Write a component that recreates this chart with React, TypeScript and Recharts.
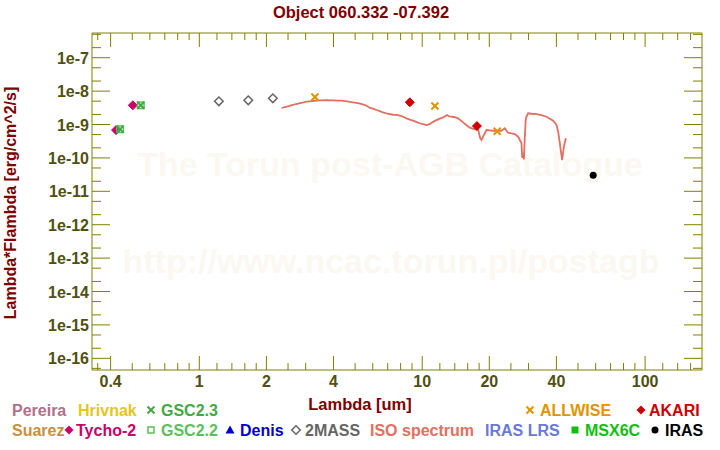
import React from 'react';
import { ComposedChart, XAxis, YAxis, Scatter, Line } from 'recharts';

const FONT = '"Liberation Sans", Arial, Helvetica, sans-serif';
const AXIS = '#808000';
const TICKTXT = '#505010';
const DARKRED = '#800000';

// ---- axis ticks ----
const xMajorTicks = [0.4, 1, 2, 4, 10, 20, 40, 100];
const xMajorLabels = ['0.4', '1', '2', '4', '10', '20', '40', '100'];
const xMinorTicks = [0.35, 0.5, 0.6, 0.7, 0.8, 0.9, 1.2, 1.4, 1.6, 1.8, 2.5, 3, 5, 6, 7, 8, 9, 12, 14, 16, 18, 25, 30, 50, 60, 70, 80, 90, 120, 140, 160];
const yMajorTicks = [1e-16, 1e-15, 1e-14, 1e-13, 1e-12, 1e-11, 1e-10, 1e-9, 1e-8, 1e-7];
const yMajorLabels = ['1e-16', '1e-15', '1e-14', '1e-13', '1e-12', '1e-11', '1e-10', '1e-9', '1e-8', '1e-7'];
const yMinorTicks = [5e-17, 2e-16, 5e-16, 2e-15, 5e-15, 2e-14, 5e-14, 2e-13, 5e-13, 2e-12, 5e-12, 2e-11, 5e-11, 2e-10, 5e-10, 2e-9, 5e-9, 2e-8, 5e-8, 2e-7, 5e-7];
const xDomain = [0.33, 180];
const yDomain = [4.47e-17, 5.49e-7];

// ---- photometry (lambda in um, lambda*F_lambda in erg/cm^2/s) ----
const tychoLambda = [0.423, 0.503];
const tychoFlux = [6.8e-10, 3.76e-9];
const gsc23Lambda = [0.441, 0.546];
const gsc23Flux = [7.2e-10, 3.76e-9];
const gsc22Lambda = [0.441, 0.546];
const gsc22Flux = [7.2e-10, 3.76e-9];
const twomassLambda = [1.224, 1.658, 2.138];
const twomassFlux = [4.95e-9, 5.3e-9, 6.1e-9];
const allwiseLambda = [3.3, 11.4, 21.7];
const allwiseFlux = [6.66e-9, 3.58e-9, 6.25e-10];
const akariLambda = [8.8, 17.6];
const akariFlux = [4.62e-9, 9.0e-10];
const irasLambda = [58.5];
const irasFlux = [3.0e-11];

// ---- ISO spectrum ----
const isoLambda = [2.34, 2.42, 2.52, 2.6, 2.72, 2.8, 2.9, 3.0, 3.12, 3.3, 3.47, 3.7, 3.98, 4.15, 4.34, 4.6, 4.89, 5.15, 5.42, 5.6, 5.81, 6.0, 6.23, 6.45, 6.67, 7.0, 7.39, 7.7, 8.07, 8.3, 8.49, 8.8, 9.09, 9.4, 9.74, 10.1, 10.44, 10.8, 11.2, 11.58, 12.0, 12.4, 12.93, 13.2, 13.52, 14.0, 14.48, 15.25, 15.8, 16.35, 17.21, 17.81, 18.2, 18.45, 18.75, 19.43, 20.1, 20.8, 21.7, 22.68, 23.47, 24.28, 25.1, 26.03, 26.93, 27.89, 28.1, 28.36, 28.6, 28.86, 29.16, 29.87, 31.0, 32.57, 34.2, 36.13, 38.67, 40.06, 40.73, 41.45, 42.0, 42.45, 43.2, 44.1];
const isoFlux = [3.12e-9, 3.3e-9, 3.55e-9, 3.8e-9, 4.11e-9, 4.3e-9, 4.5e-9, 4.75e-9, 4.96e-9, 5.15e-9, 5.31e-9, 5.35e-9, 5.31e-9, 5.2e-9, 5.16e-9, 4.95e-9, 4.62e-9, 4.4e-9, 4.03e-9, 3.7e-9, 3.18e-9, 3.0e-9, 2.72e-9, 2.5e-9, 2.32e-9, 2.1e-9, 1.96e-9, 1.95e-9, 1.79e-9, 1.65e-9, 1.53e-9, 1.4e-9, 1.3e-9, 1.2e-9, 1.09e-9, 1.02e-9, 9.66e-10, 1.03e-9, 1.2e-9, 1.36e-9, 1.5e-9, 1.64e-9, 1.92e-9, 1.75e-9, 1.71e-9, 1.65e-9, 1.53e-9, 1.16e-9, 9.5e-10, 8.02e-10, 7.18e-10, 7.18e-10, 3.94e-10, 3.44e-10, 4.32e-10, 6.84e-10, 6.7e-10, 6.51e-10, 6.6e-10, 6.51e-10, 7.69e-10, 5.68e-10, 5.4e-10, 5.2e-10, 4.32e-10, 2.74e-10, 1.0e-10, 1.37e-10, 0.9e-10, 4.32e-10, 1.53e-9, 2.16e-9, 2.1e-9, 2.06e-9, 1.9e-9, 1.71e-9, 1.3e-9, 9.66e-10, 6.08e-10, 2.74e-10, 1.4e-10, 8.65e-11, 2.16e-10, 3.86e-10];

const toPoints = (xs: number[], ys: number[]) => xs.map((x, i) => ({ x, y: ys[i] }));

const tychoData = toPoints(tychoLambda, tychoFlux);
const gsc23Data = toPoints(gsc23Lambda, gsc23Flux);
const gsc22Data = toPoints(gsc22Lambda, gsc22Flux);
const twomassData = toPoints(twomassLambda, twomassFlux);
const allwiseData = toPoints(allwiseLambda, allwiseFlux);
const akariData = toPoints(akariLambda, akariFlux);
const irasData = toPoints(irasLambda, irasFlux);
const isoData = toPoints(isoLambda, isoFlux);

const xAllTicks = [...xMajorTicks, ...xMinorTicks].sort((a, b) => a - b);
const yAllTicks = [...yMajorTicks, ...yMinorTicks].sort((a, b) => a - b);

// ---- tick renderers ----
const makeXTick = (side: 'top' | 'bottom') => (props: any) => {
  const { x, y, payload } = props;
  const idx = xMajorTicks.indexOf(payload.value);
  const major = idx >= 0;
  const len = major ? 14 : 7;
  const dir = side === 'bottom' ? -1 : 1;
  return (
    <g>
      <line x1={x} y1={y} x2={x} y2={y + dir * len} stroke={AXIS} strokeWidth={1} />
      {major && side === 'bottom' ? (
        <text x={x} y={y + 17} textAnchor="middle" fontFamily={FONT} fontWeight="bold" fontSize={16} fill={TICKTXT}>
          {xMajorLabels[idx]}
        </text>
      ) : null}
    </g>
  );
};

const makeYTick = (side: 'left' | 'right') => (props: any) => {
  const { x, y, payload } = props;
  const idx = yMajorTicks.indexOf(payload.value);
  const major = idx >= 0;
  const len = major ? 18 : 9;
  const dir = side === 'left' ? 1 : -1;
  return (
    <g>
      <line x1={x} y1={y} x2={x + dir * len} y2={y} stroke={AXIS} strokeWidth={1} />
      {major && side === 'left' ? (
        <text x={x - 3} y={y + 6} textAnchor="end" fontFamily={FONT} fontWeight="bold" fontSize={16} fill={TICKTXT}>
          {yMajorLabels[idx]}
        </text>
      ) : null}
    </g>
  );
};

// ---- marker shapes ----
const Diamond = (color: string, r: number, filled: boolean) => (p: any) => {
  const { cx, cy } = p;
  if (cx == null || cy == null) return <g />;
  return (
    <polygon
      points={`${cx},${cy - r} ${cx + r},${cy} ${cx},${cy + r} ${cx - r},${cy}`}
      fill={filled ? color : 'none'}
      stroke={color}
      strokeWidth={filled ? 1 : 1.5}
    />
  );
};
const Cross = (color: string, r: number, w: number) => (p: any) => {
  const { cx, cy } = p;
  if (cx == null || cy == null) return <g />;
  return (
    <g stroke={color} strokeWidth={w}>
      <line x1={cx - r} y1={cy - r} x2={cx + r} y2={cy + r} />
      <line x1={cx - r} y1={cy + r} x2={cx + r} y2={cy - r} />
    </g>
  );
};
const OpenSquare = (color: string, r: number) => (p: any) => {
  const { cx, cy } = p;
  if (cx == null || cy == null) return <g />;
  return <rect x={cx - r} y={cy - r} width={2 * r} height={2 * r} fill="none" stroke={color} strokeWidth={1.5} />;
};
const Dot = (color: string, r: number) => (p: any) => {
  const { cx, cy } = p;
  if (cx == null || cy == null) return <g />;
  return <circle cx={cx} cy={cy} r={r} fill={color} />;
};

// ---- legend ----
type LegendItem = { label: string; color: string; x: number; y: number; marker?: string; mx?: number };
const legendItems: LegendItem[] = [
  { label: 'Pereira', color: '#b0708a', x: 12, y: 416 },
  { label: 'Hrivnak', color: '#e6c619', x: 78, y: 416 },
  { label: 'GSC2.3', color: '#44a844', x: 161, y: 416, marker: 'cross', mx: 151 },
  { label: 'ALLWISE', color: '#e09400', x: 540, y: 416, marker: 'cross', mx: 530 },
  { label: 'AKARI', color: '#cc0000', x: 649, y: 416, marker: 'diamond', mx: 641 },
  { label: 'Suarez', color: '#c8903c', x: 12, y: 436 },
  { label: 'Tycho-2', color: '#cc0066', x: 76, y: 436, marker: 'diamond', mx: 69 },
  { label: 'GSC2.2', color: '#5cbf5c', x: 161, y: 436, marker: 'square', mx: 151 },
  { label: 'Denis', color: '#0000cc', x: 240, y: 436, marker: 'triangle', mx: 230 },
  { label: '2MASS', color: '#666666', x: 305, y: 436, marker: 'odiamond', mx: 296 },
  { label: 'ISO spectrum', color: '#e07060', x: 370, y: 436 },
  { label: 'IRAS LRS', color: '#6a78d6', x: 485, y: 436 },
  { label: 'MSX6C', color: '#10c010', x: 585, y: 436, marker: 'fsquare', mx: 575 },
  { label: 'IRAS', color: '#000000', x: 665, y: 436, marker: 'dot', mx: 655 },
];

const legendMarker = (it: LegendItem) => {
  if (!it.marker || it.mx == null) return null;
  const cx = it.mx;
  const cy = it.y - 6;
  const c = it.color;
  switch (it.marker) {
    case 'cross':
      return (
        <g stroke={c} strokeWidth={2}>
          <line x1={cx - 3.5} y1={cy - 3.5} x2={cx + 3.5} y2={cy + 3.5} />
          <line x1={cx - 3.5} y1={cy + 3.5} x2={cx + 3.5} y2={cy - 3.5} />
        </g>
      );
    case 'diamond':
      return <polygon points={`${cx},${cy - 4.5} ${cx + 4.5},${cy} ${cx},${cy + 4.5} ${cx - 4.5},${cy}`} fill={c} />;
    case 'odiamond':
      return <polygon points={`${cx},${cy - 4.3} ${cx + 4.3},${cy} ${cx},${cy + 4.3} ${cx - 4.3},${cy}`} fill="none" stroke={c} strokeWidth={1.5} />;
    case 'square':
      return <rect x={cx - 3} y={cy - 3} width={6} height={6} fill="none" stroke={c} strokeWidth={1.5} />;
    case 'fsquare':
      return <rect x={cx - 3.5} y={cy - 3.5} width={7} height={7} fill={c} />;
    case 'triangle':
      return <polygon points={`${cx},${cy - 4.5} ${cx + 4.5},${cy + 3.5} ${cx - 4.5},${cy + 3.5}`} fill={c} />;
    case 'dot':
      return <circle cx={cx} cy={cy} r={3.5} fill={c} />;
    default:
      return null;
  }
};

export default function App() {
  return (
    <div style={{ position: 'fixed', left: 0, top: 0, width: 720, height: 450, background: '#ffffff' }}>
      {/* watermark behind chart */}
      <svg width={720} height={450} style={{ position: 'absolute', left: 0, top: 0 }}>
        <text x={390} y={176} textAnchor="middle" fontFamily={FONT} fontWeight="bold" fontSize={34} fill="#fbf8f2">
          The Torun post-AGB Catalogue
        </text>
        <text x={391} y={273} textAnchor="middle" fontFamily={FONT} fontWeight="bold" fontSize={34} fill="#fbf8f2">
          http://www.ncac.torun.pl/postagb
        </text>
      </svg>
      <div style={{ position: 'absolute', left: 0, top: 0 }}>
        <ComposedChart width={720} height={450} margin={{ top: 0, right: 0, bottom: 0, left: 0 }}>
          <XAxis
            xAxisId={0}
            dataKey="x"
            type="number"
            scale="log"
            domain={xDomain}
            allowDataOverflow
            ticks={xAllTicks}
            interval={0}
            orientation="bottom"
            height={80}
            tickSize={0}
            tickMargin={0}
            tickLine={false}
            tick={makeXTick('bottom')}
            axisLine={{ stroke: AXIS, strokeWidth: 1 }}
          />
          <XAxis
            xAxisId="top"
            dataKey="x"
            type="number"
            scale="log"
            domain={xDomain}
            allowDataOverflow
            ticks={xAllTicks}
            interval={0}
            orientation="top"
            height={33}
            tickSize={0}
            tickMargin={0}
            tickLine={false}
            tick={makeXTick('top')}
            axisLine={{ stroke: AXIS, strokeWidth: 1 }}
          />
          <YAxis
            yAxisId={0}
            dataKey="y"
            type="number"
            scale="log"
            domain={yDomain}
            allowDataOverflow
            ticks={yAllTicks}
            interval={0}
            orientation="left"
            width={92}
            tickSize={0}
            tickMargin={0}
            tickLine={false}
            tick={makeYTick('left')}
            axisLine={{ stroke: AXIS, strokeWidth: 1 }}
          />
          <YAxis
            yAxisId="right"
            dataKey="y"
            type="number"
            scale="log"
            domain={yDomain}
            allowDataOverflow
            ticks={yAllTicks}
            interval={0}
            orientation="right"
            width={18}
            tickSize={0}
            tickMargin={0}
            tickLine={false}
            tick={makeYTick('right')}
            axisLine={{ stroke: AXIS, strokeWidth: 1 }}
          />
          <Line
            data={isoData}
            dataKey="y"
            type="linear"
            stroke="#e07060"
            strokeWidth={1.8}
            dot={false}
            activeDot={false}
            isAnimationActive={false}
          />
          <Scatter data={twomassData} dataKey="y" shape={Diamond('#666666', 4.3, false)} isAnimationActive={false} />
          <Scatter data={tychoData} dataKey="y" shape={Diamond('#cc0066', 4.5, true)} isAnimationActive={false} />
          <Scatter data={gsc22Data} dataKey="y" shape={OpenSquare('#5cbf5c', 3.3)} isAnimationActive={false} />
          <Scatter data={gsc23Data} dataKey="y" shape={Cross('#44a844', 3.5, 2)} isAnimationActive={false} />
          <Scatter data={allwiseData} dataKey="y" shape={Cross('#e09400', 3.5, 2)} isAnimationActive={false} />
          <Scatter data={akariData} dataKey="y" shape={Diamond('#cc0000', 4.5, true)} isAnimationActive={false} />
          <Scatter data={irasData} dataKey="y" shape={Dot('#000000', 3.5)} isAnimationActive={false} />
        </ComposedChart>
      </div>
      {/* titles and legend */}
      <svg width={720} height={450} style={{ position: 'absolute', left: 0, top: 0, pointerEvents: 'none' }}>
        <text x={361} y={18} textAnchor="middle" fontFamily={FONT} fontWeight="bold" fontSize={16.5} fill={DARKRED}>
          Object 060.332 -07.392
        </text>
        <text
          x={16}
          y={203}
          textAnchor="middle"
          transform="rotate(-90, 16, 203)"
          fontFamily={FONT}
          fontWeight="bold"
          fontSize={16}
          fill={DARKRED}
        >
          Lambda*Flambda [erg/cm^2/s]
        </text>
        <text x={360} y={410} textAnchor="middle" fontFamily={FONT} fontWeight="bold" fontSize={16.5} fill={DARKRED}>
          Lambda [um]
        </text>
        {legendItems.map((it) => (
          <g key={it.label}>
            {legendMarker(it)}
            <text x={it.x} y={it.y} fontFamily={FONT} fontWeight="bold" fontSize={16} fill={it.color}>
              {it.label}
            </text>
          </g>
        ))}
      </svg>
    </div>
  );
}
